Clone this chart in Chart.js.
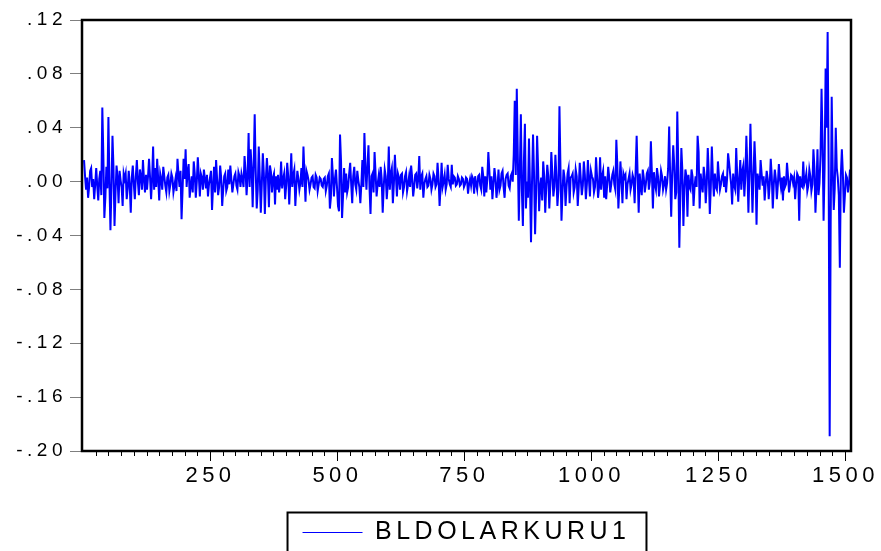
<!DOCTYPE html>
<html>
<head>
<meta charset="utf-8">
<script src="https://cdn.jsdelivr.net/npm/chart.js@4.4.1/dist/chart.umd.min.js"></script>
<style>
  html, body { margin: 0; padding: 0; background: #fff; }
</style>
</head>
<body>
<canvas id="kur" width="881" height="551"></canvas>
<script>
const seriesName = 'BLDOLARKURU1';
const obsStep = 4;

// readings at obs 1, 5, 9, ... 1509
const firstObsA = 1;
const valuesA = [
  .016, -.006, -.012, .008, -.004, -.013, .010, -.014, .008, .055,
  -.027, .011, .048, -.036, .034, -.033, .012, -.016, .001, -.018,
  .002, -.013, .008, -.023, .012, -.013, .016, -.010, .004, .016,
  -.008, -.006, .017, -.013, .026, .010, .017, -.014, .002, .011,
  -.003, .003, -.007, .006, -.008, .002, .017, -.004, -.028, .017,
  .024, .008, -.012, .004, .015, -.012, .018, -.011, .003, .009,
  -.005, -.011, .003, -.021, .011,
  .016, -.010, .012, -.018, .004, -.007, .009, .012, -.008, .004,
  -.003, .007, -.004, .002, .019, -.010, .036, .024, -.019, .050,
  -.020, .026, -.023, .021, -.024, .0175, -.019, .007, .003, -.017,
  -.006, -.008, .015, .002, -.013, .014, -.017, .021, .005, -.018,
  .008, -.006, .010, .026, -.015, .005, -.006, .003, -.004, .005,
  -.007, .003, -.003, .002, -.007, .004, -.020, .0175, -.011, .009,
  -.018, .035, -.027, .010,
  .006, -.004, .014, -.016, .011, -.006, .001, -.016, .016, .036,
  -.006, .027, -.024, .006, .022, -.011, .004, .011, -.023, .009,
  -.013, .026, .006, -.016, .020, -.011, .003, .005, -.008, .004,
  -.007, .004, .012, -.011, .005, -.005, .019, .004, -.012, .002,
  -.004, .005, -.006, .006, -.004, .014, -.018, .014, .000, -.006,
  .0125, -.002, .0125, .004, -.003, .004, -.003, .003, -.004, .003,
  -.009, .002, .004, -.009,
  -.002, .004, -.003, .011, -.011, -.008, .022, -.006, -.013, .010,
  -.012, .009, -.003, .008, -.012, .005, -.003, .004, .000, .060,
  .069, -.029, .050, -.033, .043, .000, .032, -.045, .035, -.039,
  .034, -.022, .003, .015, -.023, .0125, -.020, .022, -.011, .020,
  -.018, .056, -.029, .009, -.018, .006, -.016, .004, -.008, .009,
  -.018, .014, -.010, .015, -.013, .016, -.011, .004, -.008, .018,
  -.012, .018, .004, -.012,
  -.013, .011, -.008, .005, -.002, .031, -.020, .015, -.016, .003,
  -.013, .002, -.006, .005, -.016, .034, -.023, -.004, .009, -.008,
  .006, -.006, .030, -.020, -.002, .010, -.011, .008, -.006, .004,
  -.001, .041, -.026, .027, -.013, .052, -.049, .025, -.033, .009,
  -.026, -.004, .009, -.018, .004, .034, -.020, -.002, .011, -.016,
  .025, -.024, .026, -.011, -.004, .015, -.006, .004, -.004, -.008,
  .021, .006, -.017, -.003,
  .025, -.015, .016, .008, -.011, .034, -.023, .043, -.023, .030,
  -.032, .001, .016, -.003, -.014, .008, -.013, .017, -.020, .009,
  -.013, .013, -.004, -.014, -.004, .014, -.008, .005, -.001, -.013,
  .006, -.029, -.003, .015, .001, -.007, .009, -.007, .024, -.023,
  .024, -.001, .069, -.029, .084, .111, -.189, .063, -.021, .040,
  .003, -.064, .024, -.023, .005, -.008, .009
];

// readings at obs 3, 7, 11, ... 1507
const firstObsB = 3;
const valuesB = [
  .004, .003, -.004, .010, .002, -.002, -.003, .002, -.010, .020,
  -.012, -.005, .000, -.004, .010, -.008, .003, .008, -.004, .006,
  .006, -.005, -.003, .003, -.002, .004, .000, .009, -.006, .002,
  .005, .004, .003, .002, -.006, -.004, .002, .006, -.006, .004,
  -.008, .005, -.002, .003, -.003, -.007, .005, .008, -.006, .002,
  -.004, .013, -.003, -.008, .006, .000, .004, .006, -.006, .002,
  .005, -.002, .008, -.004, -.008,
  .002, -.004, .003, -.006, .006, -.004, -.002, .002, -.002, .006,
  -.006, .004, .006, -.004, .008, .004, -.004, .010, .012, .008,
  -.006, .004, -.002, .006, .002, .004, .012, -.008, .006, .004,
  .005, -.002, -.005, .006, -.003, .004, .000, -.004, .009, -.003,
  .002, -.001, -.004, .005, .008, .001, -.002, .004, -.005, .003,
  -.002, .002, -.004, .003, -.003, .006, -.012, .004, .002, -.004,
  -.022, .015, -.010, -.008,
  -.008, .006, -.002, .004, -.002, .008, -.004, -.002, -.004, .010,
  .012, -.004, .004, -.008, .006, -.002, -.004, .002, -.004, .004,
  -.002, -.006, .010, -.002, .004, .006, -.006, .006, -.004, .007,
  -.002, -.004, .003, -.004, .006, .002, -.006, .006, -.002, .004,
  -.003, .002, -.002, .004, -.002, .002, -.004, -.004, .005, -.002,
  .002, -.004, -.002, .003, -.002, .002, -.002, .002, -.002, .002,
  -.002, -.003, .002, .004,
  -.006, .005, -.006, .004, .004, .002, .008, .004, -.002, .003,
  -.004, -.006, .006, -.004, .002, .006, -.005, .006, .020, .005,
  .020, .008, -.006, .015, -.020, -.012, -.003, .000, .005, -.010,
  .010, -.004, -.014, .004, -.004, .004, -.003, .006, -.004, .004,
  -.006, .010, -.008, .003, -.004, .010, .003, .006, -.004, .004,
  -.004, .002, -.003, .005, -.002, .002, .008, .002, -.004, .004,
  -.004, -.006, .008, .004,
  -.002, .003, -.002, .008, -.006, .012, -.004, .002, .006, .005,
  -.002, .006, -.002, .002, .008, .004, .006, -.010, .003, -.002,
  .008, .000, .006, .007, -.006, .004, -.003, .004, -.002, -.006,
  .010, .004, .006, .012, -.008, .010, -.010, .008, -.006, .004,
  .005, -.006, .004, -.004, -.004, .022, .006, -.008, .004, -.002,
  .006, -.004, .004, .006, -.006, .004, -.002, .006, .004, .002,
  .014, -.002, .006, -.006,
  .004, .002, -.006, .012, .004, .010, .006, .008, .004, .010,
  .006, -.006, .006, .004, -.002, .002, -.002, .004, -.002, .002,
  -.002, .002, .003, .004, -.002, .004, -.002, .004, .003, -.002,
  .004, .004, -.004, -.002, .006, -.003, .004, -.002, .010, -.004,
  -.010, .020, .030, .010, .040, .010, -.030, .010, -.005, .010,
  -.010, .005, .006, -.010, .003, -.002
];

const xMin = -3;
const xMax = 1511;
const xMajorTicks = [250, 500, 750, 1000, 1250, 1500];
const xMinorStep = 25;
const yTicks = [-0.20, -0.16, -0.12, -0.08, -0.04, 0, 0.04, 0.08, 0.12];
const yTickLabels = ['-.20', '-.16', '-.12', '-.08', '-.04', '.00', '.04', '.08', '.12'];

const fontFamily = "'Liberation Sans', Arial, sans-serif";
const spread = '4.5px';

// EViews text is wide, so stretch it with letter spacing
const wideText = {
  id: 'wideText',
  beforeLayout(chart) { chart.ctx.letterSpacing = spread; },
  beforeDraw(chart) { chart.ctx.letterSpacing = spread; }
};

// plot frame and legend box
const frames = {
  id: 'frames',
  afterDraw(chart) {
    const { ctx, chartArea: a } = chart;
    ctx.save();
    ctx.strokeStyle = '#000';
    ctx.lineWidth = 2.5;
    ctx.strokeRect(a.left, a.top, a.right - a.left, a.bottom - a.top);
    const hb = chart.legend.legendHitBoxes[0];
    if (hb) {
      const cy = hb.top + hb.height / 2;
      ctx.lineWidth = 2;
      ctx.strokeRect(hb.left - 15, cy - 20, hb.width + 31, 60);
    }
    ctx.restore();
  }
};

// merge both reading sets in observation order
const points = [];
valuesA.forEach((v, i) => {
  points.push({ x: firstObsA + i * obsStep, y: v });
  if (i < valuesB.length) points.push({ x: firstObsB + i * obsStep, y: valuesB[i] });
});

new Chart(document.getElementById('kur').getContext('2d'), {
  type: 'line',
  data: {
    datasets: [{
      label: seriesName,
      data: points,
      borderColor: '#0000ff',
      backgroundColor: '#0000ff',
      borderWidth: 2,
      pointRadius: 0,
      pointHoverRadius: 0,
      pointStyle: 'line',
      tension: 0,
      fill: false
    }]
  },
  options: {
    responsive: false,
    animation: false,
    devicePixelRatio: 1,
    events: [],
    layout: { padding: { left: 0, right: 30, top: 20, bottom: -4 } },
    scales: {
      x: {
        type: 'linear',
        min: xMin,
        max: xMax,
        border: { display: false },
        grid: {
          drawOnChartArea: false,
          tickLength: 10,
          tickColor: '#000',
          tickWidth: 1,
          tickBorderDash: (c) => (c.tick && xMajorTicks.includes(c.tick.value)) ? [] : [5, 40]
        },
        ticks: {
          autoSkip: false,
          maxRotation: 0,
          padding: 2,
          color: '#000',
          font: { family: fontFamily, size: 22 },
          callback: (v) => xMajorTicks.includes(v) ? String(v) : ''
        },
        afterBuildTicks: (s) => {
          const t = [];
          for (let v = xMinorStep; v <= xMajorTicks[xMajorTicks.length - 1]; v += xMinorStep) t.push({ value: v });
          s.ticks = t;
        },
        afterFit: (s) => { s.height = 59; s.paddingLeft = 0; s.paddingRight = 0; }
      },
      y: {
        min: yTicks[0],
        max: yTicks[yTicks.length - 1],
        border: { display: false },
        grid: {
          drawOnChartArea: false,
          tickLength: 12,
          tickColor: '#7f7f7f',
          tickWidth: 1
        },
        ticks: {
          autoSkip: false,
          padding: 3,
          color: '#000',
          font: { family: fontFamily, size: 19 },
          callback: (v) => yTickLabels[yTicks.indexOf(v)]
        },
        afterBuildTicks: (s) => { s.ticks = yTicks.map(v => ({ value: v })); },
        afterFit: (s) => { s.width = 82; s.paddingTop = 0; s.paddingBottom = 0; }
      }
    },
    plugins: {
      tooltip: { enabled: false },
      legend: {
        position: 'bottom',
        fullSize: false,
        labels: {
          usePointStyle: true,
          pointStyleWidth: 60,
          padding: 10,
          color: '#000',
          font: { family: fontFamily, size: 25 },
          generateLabels: (chart) => {
            const items = Chart.defaults.plugins.legend.labels.generateLabels(chart);
            items.forEach(it => { it.lineWidth = 1; });
            return items;
          }
        }
      }
    }
  },
  plugins: [wideText, frames]
});
</script>
</body>
</html>
